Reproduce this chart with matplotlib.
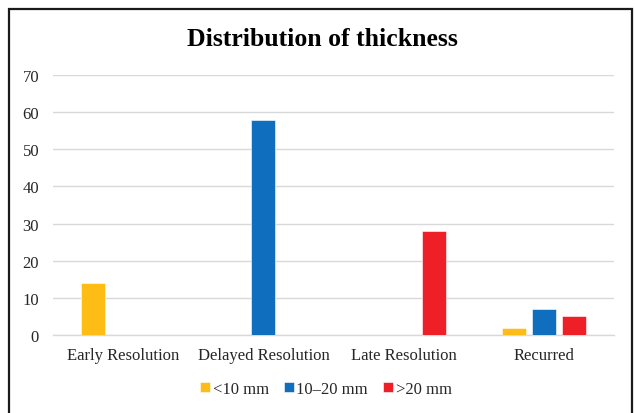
import numpy as np
import matplotlib
matplotlib.use('Agg')
import matplotlib.pyplot as plt
from matplotlib.patches import Rectangle

# Data
categories = ['Early Resolution', 'Delayed Resolution', 'Late Resolution', 'Recurred']
series_names = ['<10 mm', '10\u201320 mm', '>20 mm']
under_10 = [14, 0, 0, 2]
from_10_to_20 = [0, 58, 0, 7]
over_20 = [0, 0, 28, 5]
y_ticks = [0, 10, 20, 30, 40, 50, 60, 70]

colors = ['#FDBD14', '#106EBE', '#EE1F26']
series = [under_10, from_10_to_20, over_20]

plt.rcParams['font.family'] = ['Liberation Serif', 'DejaVu Serif']

fig = plt.figure(figsize=(6.35, 4.14), dpi=100, facecolor='white')
W, H = 635, 414

# outer chart frame (bottom edge falls outside the image)
fig.patches.append(Rectangle((9 / W, -0.05), 623 / W, 1.05 - 10 / H,
                             transform=fig.transFigure, fill=False,
                             edgecolor='#1a1a1a', linewidth=1.6, clip_on=False))

ax = fig.add_axes([53 / W, 1 - 336 / H, (614 - 53) / W, (336 - 76) / H])

x = np.arange(len(categories))
offset = 0.214
width = 0.172
for i, (vals, name, c) in enumerate(zip(series, series_names, colors)):
    ax.bar(x + (i - 1) * offset, vals, width, color=c, label=name,
           edgecolor='white', linewidth=0.4, zorder=3)

ax.set_xlim(-0.5, len(categories) - 0.5)
ax.set_ylim(0, 70)
ax.set_yticks(y_ticks)
ax.set_xticks(x)
ax.set_xticklabels(categories)
ax.tick_params(axis='both', length=0, labelsize=12, colors='#262626')
ax.tick_params(axis='y', pad=10)
ax.tick_params(axis='x', pad=9)
ax.grid(axis='y', color='#D9D9D9', linewidth=1.0, zorder=0)
for side in ['top', 'right', 'left']:
    ax.spines[side].set_visible(False)
ax.spines['bottom'].set_color('#D9D9D9')
ax.spines['bottom'].set_linewidth(1.0)

fig.text(322 / W, 1 - 40 / H, 'Distribution of thickness', ha='center', va='center',
         fontsize=18.5, fontweight='bold', color='black')

fig.legend(loc='center', bbox_to_anchor=(326 / W, 1 - 390 / H), ncol=3,
           frameon=False, fontsize=12, handlelength=0.6, handleheight=0.6,
           handletextpad=0.15, columnspacing=0.9, labelcolor='#262626')

fig.savefig('out.png', dpi=100, facecolor='white')
plt.close(fig)
